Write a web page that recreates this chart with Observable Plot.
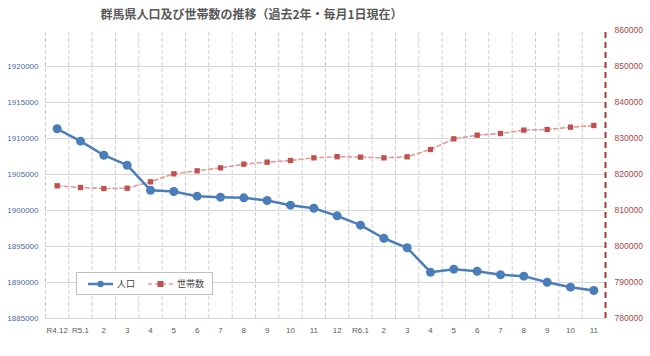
<!DOCTYPE html>
<html><head><meta charset="utf-8">
<script src="https://cdn.jsdelivr.net/npm/d3@7"></script>
<script src="https://cdn.jsdelivr.net/npm/@observablehq/plot@0.6"></script>
<style>
body{margin:0;background:#fff;}
#wrap{position:relative;width:650px;height:356px;font-family:"Noto Sans CJK JP","Liberation Sans",sans-serif;}
#title{position:absolute;top:5px;left:0;width:503px;text-align:center;font-size:12px;font-weight:bold;color:#595959;}
#legend{position:absolute;left:76px;top:272px;width:135px;height:21px;border:1px solid #bfbfbf;background:#fff;font-size:9px;color:#404040;display:flex;align-items:center;}
#legend span{display:inline-flex;align-items:center;}
</style></head>
<body><div id="wrap"><div id="title">群馬県人口及び世帯数の推移（過去2年・毎月1日現在）</div>
<div id="legend">
<span style="margin-left:10px"><svg width="27" height="10"><line x1="1" y1="5" x2="26" y2="5" stroke="#4a7ebb" stroke-width="2.5"/><circle cx="13.5" cy="5" r="3.2" fill="#4a7ebb"/></svg><span style="margin-left:3px">人口</span></span>
<span style="margin-left:12px"><svg width="27" height="10"><line x1="1" y1="5" x2="26" y2="5" stroke="#e49a98" stroke-width="1.5" stroke-dasharray="4,3"/><rect x="10.5" y="2" width="6" height="6" fill="#c0504d"/></svg><span style="margin-left:3px">世帯数</span></span>
</div>
</div>
<script>
const labels = ["R4.12","R5.1","2","3","4","5","6","7","8","9","10","11","12","R6.1","2","3","4","5","6","7","8","9","10","11"];
const population = [1911350,1909630,1907680,1906290,1902820,1902640,1901990,1901850,1901760,1901390,1900740,1900320,1899260,1897960,1896150,1894820,1891430,1891850,1891570,1891070,1890880,1890040,1889350,1888890];
const households = [816860,816390,816110,816190,817960,820190,821020,821850,822870,823430,823890,824630,824950,824820,824630,824910,826940,829910,830930,831390,832320,832500,833150,833610];
const leftTicks = [1885000,1890000,1895000,1900000,1905000,1910000,1915000,1920000];
const rightTicks = [780000,790000,800000,810000,820000,830000,840000,850000,860000];
const leftDomain = [1885000,1925000];
const rightDomain = [780000,860000];

const k = (leftDomain[1]-leftDomain[0])/(rightDomain[1]-rightDomain[0]);
const toLeft = h => leftDomain[0] + (h-rightDomain[0])*k;
const fromLeft = v => rightDomain[0] + (v-leftDomain[0])/k;
const idx = d3.range(labels.length);
const bounds = d3.range(labels.length+1).map(i=>i-0.5);

const chart = Plot.plot({
  width:650, height:356,
  marginTop:30, marginBottom:38, marginLeft:45, marginRight:45,
  style:{fontFamily:'"Liberation Sans","Noto Sans CJK JP",sans-serif', background:"transparent"},
  x:{type:"linear", domain:[-0.5, labels.length-0.5]},
  y:{domain:leftDomain},
  marks:[
    Plot.ruleY(leftTicks, {stroke:"#d9d9d9", strokeWidth:1}),
    Plot.ruleX(bounds.slice(0,-1), {y1:leftDomain[0], y2:leftDomain[1], stroke:"#d0d0d0", strokeDasharray:"4,2", strokeWidth:1}),
    Plot.ruleX(bounds.slice(-1), {y1:leftDomain[0], y2:leftDomain[1], stroke:"#a33b3b", strokeDasharray:"6,4", strokeWidth:2}),
    Plot.axisX(idx, {anchor:"bottom", tickSize:0, tickPadding:9, tickFormat:i=>labels[i], fill:"#595959", fontSize:8, label:null}),
    Plot.axisY(leftTicks, {anchor:"left", tickSize:0, tickPadding:7, tickFormat:d3.format("d"), fill:"#4a6b9d", fontSize:8, label:null}),
    Plot.axisY(rightTicks.map(toLeft), {anchor:"right", tickSize:0, tickPadding:9, tickFormat:v=>String(Math.round(fromLeft(v))), fill:"#b04545", fontSize:8.5, label:null}),
    Plot.line(idx, {x:i=>i, y:i=>toLeft(households[i]), stroke:"#e49a98", strokeWidth:1.6, strokeDasharray:"4,3"}),
    Plot.dot(idx, {x:i=>i, y:i=>toLeft(households[i]), symbol:"square", r:3, fill:"#c0504d"}),
    Plot.line(idx, {x:i=>i, y:i=>population[i], stroke:"#4a7ebb", strokeWidth:2.5}),
    Plot.dot(idx, {x:i=>i, y:i=>population[i], r:4.5, fill:"#4a7ebb"})
  ]
});
chart.style.position="absolute"; chart.style.left="0"; chart.style.top="0";
const wrap=document.getElementById("wrap");
wrap.insertBefore(chart, wrap.firstChild);
</script>
</body></html>
